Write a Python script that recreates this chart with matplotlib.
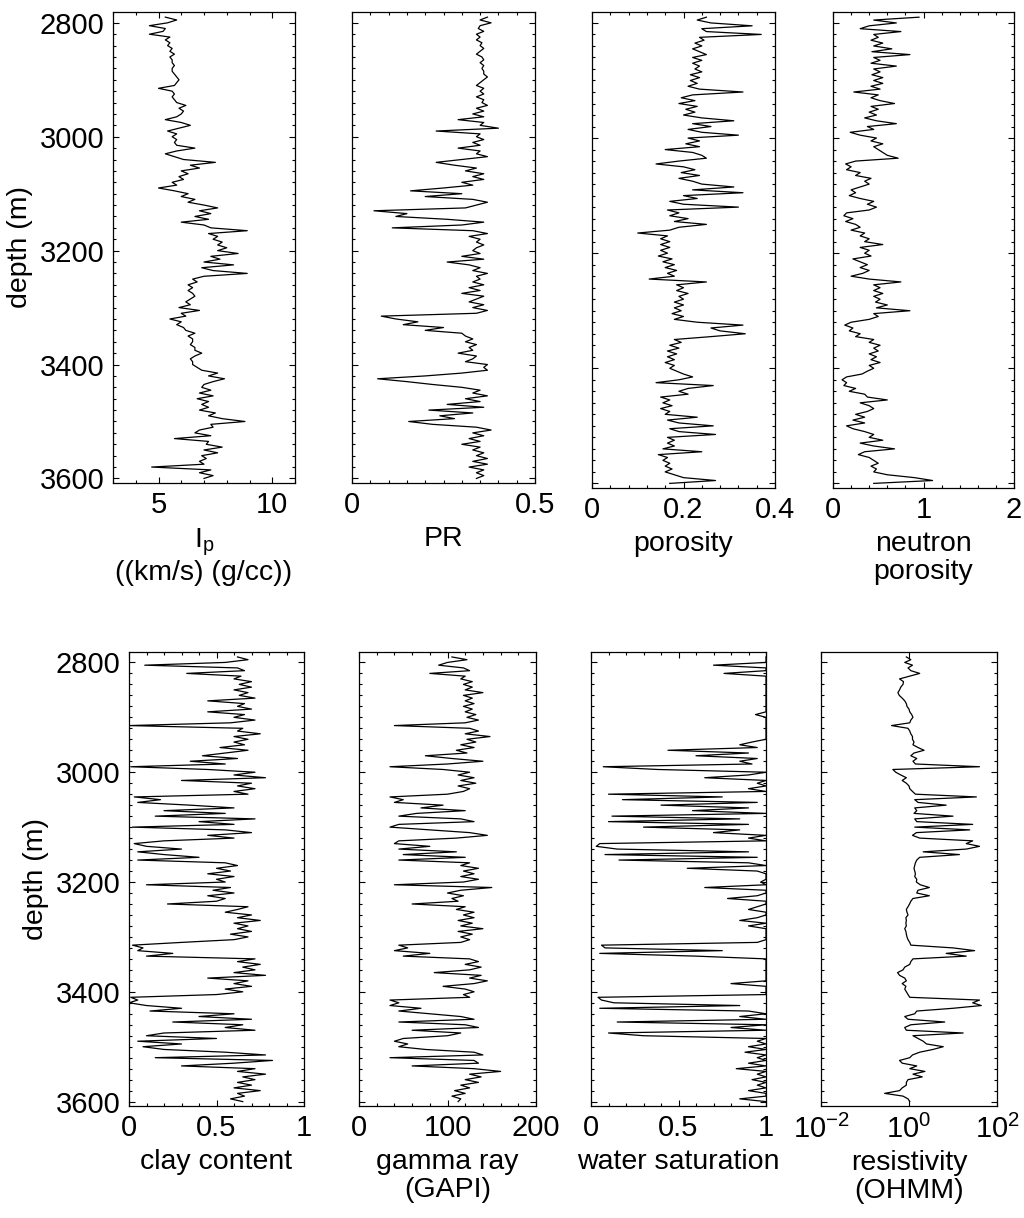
import numpy as np
import matplotlib
matplotlib.use("Agg")
import matplotlib.pyplot as plt
from matplotlib.ticker import MultipleLocator, FixedLocator, FixedFormatter, NullLocator

plt.rcParams['font.family'] = ['Liberation Sans', 'DejaVu Sans']
plt.rcParams['mathtext.fontset'] = 'custom'
plt.rcParams['mathtext.rm'] = 'Liberation Sans'
plt.rcParams['mathtext.it'] = 'Liberation Sans'

# depth samples (m): 2790 .. 3600 every 5 m
depth_start, depth_stop, depth_step = 2790, 3600, 5

ip = [5.3, 5.8, 5.4, 4.6, 5.3, 5.2, 4.6, 5.5, 5.3, 5.5,
      5.4, 5.6, 5.5, 5.7, 5.5, 5.6, 5.6, 5.7, 5.6, 5.6,
      5.7, 5.8, 5.9, 5.8, 5.7, 5.0, 5.6, 5.7, 5.6, 5.7,
      5.8, 6.2, 5.9, 6.1, 6.0, 5.8, 5.3, 6.0, 6.4, 5.9,
      5.4, 5.8, 5.6, 5.8, 5.7, 5.8, 6.6, 5.8, 5.3, 5.7,
      6.1, 7.5, 6.4, 6.8, 6.0, 6.3, 5.9, 6.1, 5.6, 5.8,
      5.0, 5.7, 6.3, 6.0, 6.6, 6.3, 7.0, 7.6, 6.8, 7.3,
      6.6, 7.2, 6.0, 7.0, 7.3, 8.9, 7.2, 7.6, 7.4, 7.8,
      7.6, 8.0, 7.6, 8.5, 7.3, 7.7, 7.0, 8.3, 6.9, 7.4,
      8.9, 7.0, 6.5, 6.7, 6.3, 6.5, 6.3, 6.5, 6.6, 6.4,
      6.2, 6.4, 5.9, 6.8, 6.0, 6.2, 5.5, 6.0, 5.8, 6.1,
      6.2, 6.6, 6.3, 6.5, 6.5, 6.4, 6.6, 6.6, 6.9, 6.6,
      6.4, 6.5, 6.5, 6.7, 6.9, 7.6, 7.2, 7.9, 7.4, 7.0,
      6.9, 7.3, 6.8, 7.4, 6.7, 7.2, 6.9, 7.2, 6.8, 7.5,
      7.2, 7.8, 8.8, 7.3, 7.4, 6.8, 6.6, 7.3, 5.7, 7.2,
      7.1, 7.8, 7.0, 7.6, 6.9, 7.1, 6.8, 7.0, 4.7, 7.3,
      6.8, 7.4, 7.0]

pr = [0.37, 0.35, 0.38, 0.35, 0.345, 0.36, 0.34, 0.35, 0.34, 0.355,
      0.35, 0.36, 0.35, 0.34, 0.355, 0.36, 0.35, 0.36, 0.355, 0.36,
      0.36, 0.37, 0.36, 0.35, 0.34, 0.36, 0.35, 0.36, 0.34, 0.36,
      0.355, 0.37, 0.34, 0.36, 0.33, 0.36, 0.29, 0.36, 0.35, 0.40,
      0.23, 0.35, 0.34, 0.36, 0.33, 0.35, 0.29, 0.35, 0.34, 0.37,
      0.30, 0.23, 0.28, 0.34, 0.31, 0.36, 0.33, 0.36, 0.30, 0.33,
      0.25, 0.16, 0.30, 0.20, 0.33, 0.37, 0.34, 0.31, 0.06, 0.15,
      0.12, 0.26, 0.36, 0.30, 0.11, 0.33, 0.37, 0.32, 0.35, 0.34,
      0.36, 0.34, 0.33, 0.35, 0.30, 0.36, 0.26, 0.32, 0.35, 0.33,
      0.37, 0.34, 0.35, 0.33, 0.36, 0.32, 0.35, 0.30, 0.36, 0.34,
      0.32, 0.36, 0.33, 0.37, 0.34, 0.08, 0.12, 0.18, 0.14, 0.25,
      0.20, 0.30, 0.31, 0.33, 0.31, 0.34, 0.32, 0.33, 0.29, 0.34,
      0.33, 0.31, 0.37, 0.36, 0.37, 0.30, 0.20, 0.07, 0.15, 0.22,
      0.30, 0.35, 0.33, 0.37, 0.31, 0.35, 0.26, 0.36, 0.21, 0.33,
      0.24, 0.28, 0.155, 0.22, 0.34, 0.38, 0.33, 0.36, 0.32, 0.35,
      0.30, 0.35, 0.33, 0.36, 0.34, 0.37, 0.33, 0.37, 0.32, 0.36,
      0.34, 0.36, 0.34]

porosity = [0.25, 0.23, 0.26, 0.35, 0.24, 0.25, 0.37, 0.235, 0.245, 0.225,
            0.24, 0.22, 0.235, 0.25, 0.22, 0.24, 0.22, 0.235, 0.225, 0.24,
            0.215, 0.235, 0.215, 0.23, 0.21, 0.235, 0.33, 0.22, 0.195, 0.225,
            0.19, 0.23, 0.205, 0.225, 0.20, 0.24, 0.31, 0.22, 0.26, 0.21,
            0.24, 0.32, 0.21, 0.235, 0.205, 0.235, 0.16, 0.22, 0.24, 0.25,
            0.19, 0.14, 0.20, 0.225, 0.195, 0.235, 0.19, 0.22, 0.24, 0.31,
            0.22, 0.33, 0.20, 0.23, 0.17, 0.20, 0.32, 0.165, 0.19, 0.17,
            0.21, 0.18, 0.25, 0.19, 0.17, 0.10, 0.165, 0.15, 0.17, 0.15,
            0.17, 0.15, 0.165, 0.145, 0.175, 0.155, 0.18, 0.16, 0.185, 0.165,
            0.18, 0.125, 0.25, 0.185, 0.20, 0.185, 0.21, 0.19, 0.20, 0.18,
            0.20, 0.18, 0.195, 0.175, 0.20, 0.18, 0.23, 0.33, 0.26, 0.28,
            0.335, 0.26, 0.18, 0.195, 0.17, 0.19, 0.165, 0.185, 0.165, 0.18,
            0.16, 0.18, 0.17, 0.185, 0.20, 0.22, 0.19, 0.14, 0.265, 0.21,
            0.19, 0.21, 0.15, 0.17, 0.155, 0.175, 0.15, 0.17, 0.16, 0.23,
            0.165, 0.19, 0.265, 0.17, 0.19, 0.27, 0.165, 0.18, 0.165, 0.18,
            0.155, 0.24, 0.145, 0.165, 0.155, 0.17, 0.16, 0.175, 0.16, 0.18,
            0.20, 0.27, 0.17]

neutron = [0.95, 0.45, 0.70, 0.40, 0.30, 0.75, 0.45, 0.50, 0.42, 0.55,
           0.45, 0.65, 0.43, 0.85, 0.45, 0.52, 0.42, 0.70, 0.45, 0.52,
           0.43, 0.55, 0.45, 0.55, 0.42, 0.52, 0.23, 0.50, 0.42, 0.52,
           0.68, 0.42, 0.50, 0.40, 0.48, 0.35, 0.48, 0.70, 0.38, 0.45,
           0.19, 0.30, 0.48, 0.42, 0.55, 0.45, 0.50, 0.55, 0.60, 0.72,
           0.25, 0.14, 0.20, 0.15, 0.30, 0.25, 0.42, 0.35, 0.40, 0.30,
           0.20, 0.25, 0.18, 0.30, 0.45, 0.38, 0.48, 0.40, 0.15, 0.12,
           0.22, 0.14, 0.25, 0.30, 0.20, 0.35, 0.30, 0.40, 0.35, 0.55,
           0.30, 0.40, 0.35, 0.42, 0.22, 0.30, 0.38, 0.30, 0.40, 0.33,
           0.20, 0.40, 0.75, 0.45, 0.52, 0.45, 0.55, 0.45, 0.52, 0.47,
           0.60, 0.48, 0.85, 0.45, 0.50, 0.40, 0.20, 0.13, 0.22, 0.18,
           0.30, 0.25, 0.45, 0.40, 0.52, 0.45, 0.50, 0.40, 0.48, 0.42,
           0.52, 0.40, 0.45, 0.38, 0.32, 0.15, 0.10, 0.15, 0.12, 0.25,
           0.18, 0.35, 0.38, 0.60, 0.30, 0.40, 0.45, 0.38, 0.25, 0.35,
           0.22, 0.35, 0.15, 0.22, 0.35, 0.45, 0.40, 0.55, 0.30, 0.45,
           0.68, 0.35, 0.28, 0.40, 0.45, 0.50, 0.42, 0.48, 0.45, 0.60,
           0.90, 1.10, 0.45]

clay = [0.62, 0.68, 0.55, 0.09, 0.62, 0.66, 0.33, 0.64, 0.60, 0.70,
        0.63, 0.70, 0.60, 0.68, 0.63, 0.72, 0.45, 0.66, 0.62, 0.70,
        0.45, 0.66, 0.60, 0.72, 0.58, 0.00, 0.65, 0.62, 0.75, 0.60,
        0.68, 0.60, 0.66, 0.52, 0.68, 0.55, 0.42, 0.62, 0.35, 0.55,
        0.01, 0.45, 0.72, 0.60, 0.78, 0.30, 0.70, 0.62, 0.72, 0.60,
        0.68, 0.03, 0.18, 0.05, 0.35, 0.60, 0.20, 0.55, 0.15, 0.72,
        0.40, 0.60, 0.02, 0.55, 0.70, 0.45, 0.60, 0.20, 0.03, 0.10,
        0.30, 0.05, 0.20, 0.40, 0.05, 0.55, 0.62, 0.50, 0.58, 0.45,
        0.60, 0.50, 0.55, 0.10, 0.58, 0.48, 0.60, 0.45, 0.55, 0.50,
        0.22, 0.68, 0.62, 0.55, 0.70, 0.62, 0.75, 0.60, 0.68, 0.62,
        0.70, 0.58, 0.68, 0.60, 0.30, 0.02, 0.08, 0.05, 0.25, 0.10,
        0.72, 0.62, 0.75, 0.65, 0.72, 0.60, 0.78, 0.45, 0.68, 0.60,
        0.70, 0.55, 0.65, 0.50, 0.01, 0.05, 0.00, 0.10, 0.30, 0.12,
        0.60, 0.40, 0.70, 0.25, 0.65, 0.55, 0.72, 0.20, 0.10, 0.50,
        0.05, 0.30, 0.08, 0.20, 0.55, 0.78, 0.15, 0.82, 0.60, 0.30,
        0.72, 0.62, 0.78, 0.65, 0.72, 0.62, 0.70, 0.60, 0.75, 0.62,
        0.66, 0.58, 0.65]

gamma = [105, 122, 100, 90, 118, 125, 80, 120, 115, 128,
         118, 128, 120, 140, 118, 128, 120, 130, 118, 128,
         120, 132, 122, 135, 120, 40, 125, 135, 120, 148,
         122, 132, 115, 130, 110, 122, 75, 105, 140, 100,
         35, 95, 125, 112, 130, 115, 132, 112, 125, 118,
         100, 35, 50, 40, 95, 70, 120, 65, 45, 115,
         130, 45, 35, 80, 125, 145, 110, 45, 40, 80,
         45, 110, 50, 120, 45, 125, 115, 135, 118, 130,
         115, 135, 118, 40, 150, 115, 100, 118, 105, 112,
         60, 120, 110, 130, 118, 130, 112, 128, 115, 140,
         112, 128, 115, 125, 115, 45, 55, 40, 80, 50,
         125, 135, 120, 138, 125, 85, 138, 125, 145, 130,
         95, 120, 130, 118, 125, 35, 45, 35, 70, 45,
         80, 115, 130, 45, 120, 135, 60, 115, 100, 50,
         40, 55, 45, 75, 130, 140, 35, 130, 135, 60,
         130, 160, 125, 138, 120, 135, 115, 125, 108, 120,
         105, 115, 112]

water_sat = [1.0, 1.0, 1.0, 0.70, 1.0, 1.0, 0.76, 1.0, 1.0, 1.0,
             1.0, 1.0, 1.0, 1.0, 1.0, 1.0, 1.0, 1.0, 1.0, 1.0,
             1.0, 0.94, 1.0, 1.0, 1.0, 1.0, 1.0, 1.0, 1.0, 1.0,
             1.0, 0.92, 0.85, 0.95, 0.44, 0.90, 0.60, 0.95, 0.85, 0.92,
             0.07, 0.38, 1.0, 0.90, 0.65, 1.0, 0.95, 1.0, 0.90, 1.0,
             0.10, 0.75, 0.18, 0.95, 0.40, 0.90, 0.58, 1.0, 0.12, 0.85,
             0.10, 0.90, 0.30, 0.85, 0.70, 1.0, 0.90, 1.0, 0.05, 0.03,
             0.15, 0.90, 0.08, 0.95, 0.16, 0.90, 1.0, 0.55, 0.95, 1.0,
             1.0, 1.0, 0.97, 1.0, 0.65, 1.0, 1.0, 0.95, 0.78, 1.0,
             1.0, 0.95, 0.90, 1.0, 1.0, 0.95, 0.85, 1.0, 0.90, 1.0,
             1.0, 1.0, 1.0, 1.0, 0.95, 0.06, 0.08, 0.75, 0.05, 0.60,
             1.0, 1.0, 1.0, 1.0, 1.0, 1.0, 1.0, 1.0, 1.0, 0.80,
             1.0, 1.0, 1.0, 1.0, 0.04, 0.06, 0.13, 0.85, 0.05, 0.90,
             1.0, 0.85, 1.0, 0.15, 1.0, 0.80, 1.0, 0.10, 0.30, 1.0,
             0.95, 1.0, 0.90, 1.0, 0.88, 1.0, 0.95, 1.0, 0.90, 1.0,
             0.83, 1.0, 0.95, 1.0, 0.92, 1.0, 0.95, 1.0, 0.90, 1.0,
             1.0, 0.85, 1.0]

resistivity = [0.87, 1.1, 0.80, 1.2, 0.95, 1.1, 1.75, 1.04, 0.61, 0.75,
               0.73, 0.65, 0.61, 0.56, 0.60, 0.70, 0.80, 0.87, 0.90, 1.0,
               1.04, 1.15, 1.23, 1.1, 1.04, 0.40, 0.95, 1.04, 1.1, 1.2,
               1.2, 1.3, 1.23, 1.6, 2.2, 1.3, 1.1, 1.5, 1.23, 1.4,
               40, 0.43, 0.50, 0.65, 0.87, 0.70, 0.87, 1.0, 1.04, 1.2,
               1.4, 34, 1.35, 1.6, 7.0, 1.35, 1.5, 1.3, 10, 1.35,
               1.5, 28, 1.35, 24, 1.47, 1.2, 1.75, 28, 20, 40,
               20, 2.1, 14, 1.75, 1.5, 1.4, 1.35, 1.3, 1.35, 1.4,
               1.35, 1.5, 1.47, 1.8, 2.9, 1.6, 1.5, 2.9, 1.23, 1.1,
               1.03, 0.95, 0.87, 0.90, 0.95, 0.85, 0.87, 0.85, 0.87, 0.80,
               0.85, 0.87, 0.90, 0.95, 1.04, 1.1, 10, 31, 7.0, 20,
               1.23, 1.1, 1.04, 0.80, 0.73, 0.55, 0.61, 0.80, 0.87, 0.70,
               0.85, 0.80, 0.87, 0.95, 1.04, 40, 28, 44, 10, 1.5,
               1.35, 0.80, 0.95, 6.5, 1.1, 0.80, 0.87, 17, 1.23, 1.6,
               2.1, 2.5, 6.0, 3.5, 1.75, 1.2, 1.04, 0.61, 0.70, 1.5,
               1.04, 2.3, 1.23, 2.0, 0.95, 0.87, 0.87, 0.70, 0.61, 0.28,
               0.73, 0.95, 1.04]

depth = np.arange(depth_start, depth_stop + 1, depth_step)

# panel specs: (values, xlim, major ticks, tick labels, minor step, xlabel, box px (x0,x1,y0,y1), log)
panels = [
    (ip, (3, 11), [5, 10], ['5', '10'], 1, '$\\mathregular{I_p}$\n((km/s) (g/cc))', (113, 295, 12, 483), False),
    (pr, (0, 0.5), [0, 0.5], ['0', '0.5'], 0.05, 'PR', (352, 535, 12, 483), False),
    (porosity, (0, 0.4), [0, 0.2, 0.4], ['0', '0.2', '0.4'], 0.04, 'porosity', (592, 775, 12, 488), False),
    (neutron, (0, 2), [0, 1, 2], ['0', '1', '2'], 0.2, 'neutron\nporosity', (833, 1014, 12, 488), False),
    (clay, (0, 1), [0, 0.5, 1], ['0', '0.5', '1'], 0.1, 'clay content', (129, 304, 652, 1106), False),
    (gamma, (0, 200), [0, 100, 200], ['0', '100', '200'], 20, 'gamma ray\n(GAPI)', (359, 536, 652, 1106), False),
    (water_sat, (0, 1), [0, 0.5, 1], ['0', '0.5', '1'], 0.1, 'water saturation', (591, 766, 652, 1106), False),
    (resistivity, (1e-2, 1e2), [1e-2, 1, 1e2],
     ['$\\mathregular{10^{-2}}$', '$\\mathregular{10^{0}}$', '$\\mathregular{10^{2}}$'], None,
     'resistivity\n(OHMM)', (821, 997, 652, 1106), True),
]

W, H = 1024, 1218
fig = plt.figure(figsize=(W / 100, H / 100), dpi=100)

for i, (vals, xlim, majors, labels, minor, xlabel, box, logx) in enumerate(panels):
    x0, x1, y0, y1 = box
    ax = fig.add_axes([x0 / W, 1 - y1 / H, (x1 - x0) / W, (y1 - y0) / H])
    ax.plot(vals, depth, color='black', lw=0.9)
    if logx:
        ax.set_xscale('log')
    ax.set_xlim(*xlim)
    ax.set_ylim(3608, 2781)
    ax.xaxis.set_major_locator(FixedLocator(majors))
    ax.xaxis.set_major_formatter(FixedFormatter(labels))
    if minor is None:
        ax.xaxis.set_minor_locator(NullLocator())
    else:
        ax.xaxis.set_minor_locator(MultipleLocator(minor))
    ax.yaxis.set_major_locator(MultipleLocator(200))
    ax.yaxis.set_minor_locator(MultipleLocator(20))
    ax.tick_params(which='both', direction='in', top=True, right=True,
                   labelsize=21, width=0.8)
    ax.tick_params(which='major', length=4.5, pad=6)
    ax.tick_params(which='minor', length=2.2)
    for sp in ax.spines.values():
        sp.set_linewidth(0.9)
    if i % 4 == 0:
        ax.set_ylabel('depth (m)', fontsize=20.5, labelpad=5)
    else:
        ax.tick_params(labelleft=False)
    ax.set_xlabel(xlabel, fontsize=20.5, labelpad=5, linespacing=1.1)

fig.savefig('out.png', dpi=100)
